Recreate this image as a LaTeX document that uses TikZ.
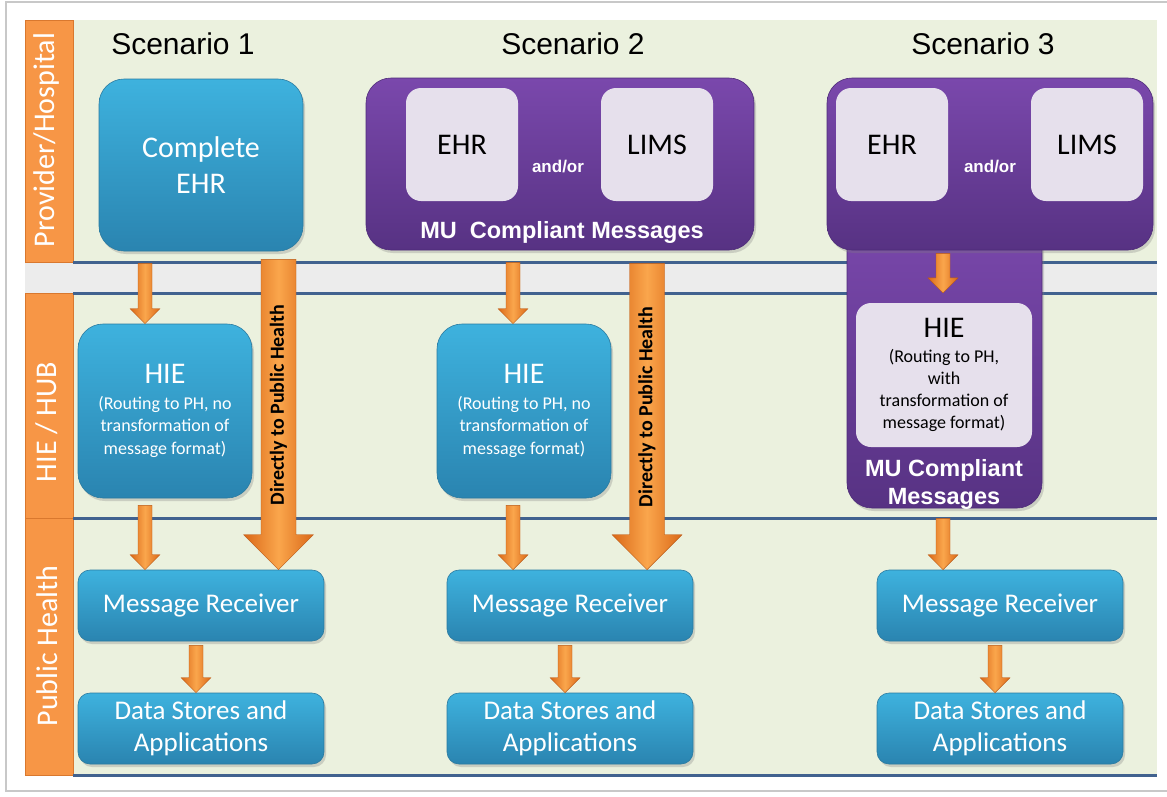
\documentclass[tikz,border=0pt]{standalone}
\usepackage{fontspec}
\setmainfont{Carlito}
\newfontfamily\arialfont{Liberation Sans}
\usetikzlibrary{calc,shadows}

\definecolor{lanegreen}{HTML}{EBF1DE}
\definecolor{bandgray}{HTML}{ECECEC}
\definecolor{laneline}{HTML}{41628F}
\definecolor{striporange}{HTML}{F79646}
\definecolor{stripedge}{HTML}{D9782E}
\definecolor{framegray}{HTML}{C8C8C8}
\definecolor{boxtop}{HTML}{3EB2DE}
\definecolor{boxbot}{HTML}{2A84B0}
\definecolor{boxedge}{HTML}{2A7AA0}
\definecolor{purtop}{HTML}{7A48AC}
\definecolor{purbot}{HTML}{573283}
\definecolor{puredge}{HTML}{4E2C78}
\definecolor{lavender}{HTML}{E6E0EC}
\definecolor{arrowlight}{HTML}{FAA64C}
\definecolor{arrowdark}{HTML}{DA6818}

\tikzset{
  strip/.style={fill=striporange, draw=stripedge, line width=1pt},
  lanelabel/.style={rotate=90, text=white, font=\fontsize{30}{36}\selectfont},
  title/.style={font=\arialfont\fontsize{30}{36}\selectfont},
  bluebox/.style={rectangle, rounded corners=25pt, top color=boxtop, bottom color=boxbot,
    draw=boxedge, line width=0.6pt, text=white, align=center, inner sep=0pt,
    drop shadow={shadow xshift=2pt, shadow yshift=-3pt, opacity=0.3}},
  phbox/.style={bluebox, rounded corners=12pt, minimum width=246, minimum height=71,
    font=\fontsize{27}{32}\selectfont},
  purbox/.style={rectangle, rounded corners=25pt, top color=purtop, bottom color=purbot,
    draw=puredge, line width=0.6pt, inner sep=0pt,
    drop shadow={shadow xshift=2pt, shadow yshift=-3pt, opacity=0.3}},
  sysbox/.style={rectangle, rounded corners=15pt, fill=lavender, inner sep=0pt,
    minimum width=112, minimum height=113, font=\fontsize{30}{34}\selectfont},
  andor/.style={text=white, font=\arialfont\bfseries\fontsize{17}{20}\selectfont},
  mutext/.style={text=white, align=center, font=\arialfont\bfseries\fontsize{23.5}{28}\selectfont},
  direct/.style={rotate=90, font=\bfseries\fontsize{20}{24}\selectfont},
  flow/.style={left color=arrowdark, right color=arrowdark, middle color=arrowlight,
    draw=arrowdark!85!black, line width=0.4pt}
}

% block arrow: start, end, half shaft, half head, head length
\newcommand{\flowarrow}[5]{%
  \path[flow] let \p1=#1, \p2=#2 in
    (\x1-#3,\y1) -- (\x1+#3,\y1) -- (\x1+#3,\y2+#5) -- (\x1+#4,\y2+#5)
    -- (\x1,\y2) -- (\x1-#4,\y2+#5) -- (\x1-#3,\y2+#5) -- cycle;}

\newcommand{\hietext}[1]{{\fontsize{30}{22}\selectfont HIE}\\[3pt]#1}

\begin{document}
\begin{tikzpicture}[x=1pt, y=-1pt]
\useasboundingbox (0,0) rectangle (1167,796);

% Frame and lanes
\fill[white] (0,0) rectangle (1167,796);
\draw[framegray, line width=1.2pt] (1167,2) -- (6,2) -- (6,791) -- (1167,791);
\fill[lanegreen] (73,20) rectangle (1157,775);
\fill[bandgray] (25,262) rectangle (1157,293);
\foreach \ya/\yb in {20/262, 293/518, 518/775}
  \draw[strip] (25,\ya) rectangle (73,\yb);
\foreach \y in {262, 293, 518, 775}
  \draw[laneline, line width=3pt] (73,\y) -- (1157,\y);

% Lane labels
\node[lanelabel] (lprov) at (47,140) {Provider/Hospital};
\node[lanelabel] (lhub) at (47,422) {HIE / HUB};
\node[lanelabel] (lph) at (47,646) {Public Health};

% Titles
\node[title] (t1) at (183,44) {Scenario 1};
\node[title] (t2) at (573,44) {Scenario 2};
\node[title] (t3) at (983,44) {Scenario 3};

% Scenario 1
\node[bluebox, minimum width=204, minimum height=172, font=\fontsize{30}{36}\selectfont]
  (ehr1) at (201,165) {Complete\\EHR};
\node[bluebox, minimum width=174, minimum height=174, font=\fontsize{18}{22.5}\selectfont]
  (hie1) at (165,411) {\hietext{(Routing to PH, no\\transformation of\\message format)}};
\node[phbox] (mr1) at (201,605.5) {Message Receiver};
\node[phbox] (ds1) at (201,728.5) {Data Stores and\\Applications};

\flowarrow{([xshift=-56pt,yshift=-12pt]ehr1.south)}{(hie1.north)}{7pt}{15pt}{15pt}
\flowarrow{([xshift=-20pt,yshift=-7pt]hie1.south)}{(mr1.north)}{7pt}{15pt}{15pt}
\flowarrow{([xshift=-5pt,yshift=-4pt]mr1.south)}{(ds1.north)}{7pt}{15pt}{15pt}
\flowarrow{([xshift=77.5pt,yshift=-8pt]ehr1.south)}{(mr1.north)}{17.5pt}{35pt}{35pt}
\node[direct] (dir1) at (278.5,405) {Directly to Public Health};

% Scenario 2
\node[purbox, minimum width=388, minimum height=172] (pur2) at (560,164) {};
\node[sysbox] (ehr2) at (462,144.5) {EHR};
\node[sysbox] (lims2) at (657,144.5) {LIMS};
\node[andor] (ao2) at (558,167) {and/or};
\node[mutext] (mu2) at (562,232) {MU\ \ Compliant Messages};
\node[bluebox, minimum width=174, minimum height=174, font=\fontsize{18}{22.5}\selectfont]
  (hie2) at (524,411) {\hietext{(Routing to PH, no\\transformation of\\message format)}};
\node[phbox] (mr2) at (570,605.5) {Message Receiver};
\node[phbox] (ds2) at (570,728.5) {Data Stores and\\Applications};

\flowarrow{([xshift=-47pt,yshift=-12pt]pur2.south)}{(hie2.north)}{7pt}{15pt}{15pt}
\flowarrow{([xshift=-11pt,yshift=-7pt]hie2.south)}{(mr2.north)}{7pt}{15pt}{15pt}
\flowarrow{([xshift=-5pt,yshift=-4pt]mr2.south)}{(ds2.north)}{7pt}{15pt}{15pt}
\flowarrow{([xshift=87pt,yshift=-13pt]pur2.south)}{(mr2.north)}{17.5pt}{35pt}{35pt}
\node[direct] (dir2) at (647,407) {Directly to Public Health};

% Scenario 3
\node[purbox, minimum width=195, minimum height=290] (stem3) at (944.5,363) {};
\node[purbox, minimum width=326, minimum height=172] (pur3) at (990,164) {};
\node[sysbox] (ehr3) at (892,144.5) {EHR};
\node[sysbox] (lims3) at (1087,144.5) {LIMS};
\node[andor] (ao3) at (990,167) {and/or};
\node[sysbox, minimum width=176, minimum height=144, align=center, font=\fontsize{18}{22}\selectfont]
  (hie3) at (944,375) {\hietext{(Routing to PH,\\with\\transformation of\\message format)}};
\node[mutext] (mu3) at (944,484) {MU Compliant\\Messages};
\node[phbox] (mr3) at (1000,605.5) {Message Receiver};
\node[phbox] (ds3) at (1000,728.5) {Data Stores and\\Applications};

\flowarrow{([xshift=-47pt,yshift=-3pt]pur3.south)}{([yshift=10pt]hie3.north)}{7pt}{15pt}{15pt}
\flowarrow{([xshift=-1.5pt,yshift=-10pt]stem3.south)}{(mr3.north)}{7pt}{15pt}{15pt}
\flowarrow{([xshift=-5pt,yshift=-4pt]mr3.south)}{(ds3.north)}{7pt}{15pt}{15pt}

\end{tikzpicture}
\end{document}
